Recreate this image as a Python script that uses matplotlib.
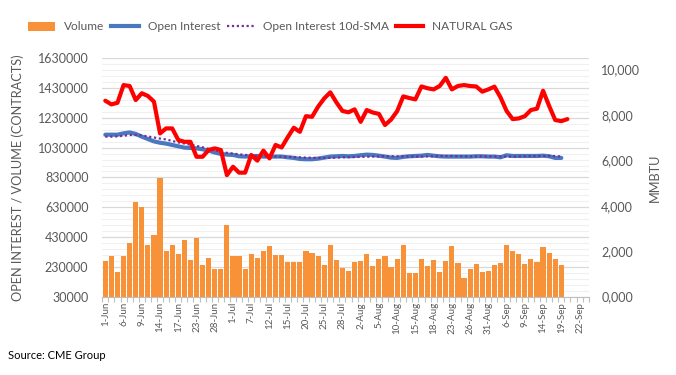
import numpy as np
import matplotlib
matplotlib.use("Agg")
import matplotlib.pyplot as plt
from matplotlib.patches import Patch
from matplotlib.lines import Line2D

plt.rcParams['font.family'] = ['Lato', 'DejaVu Sans']

# ---- data ----
volume = [267, 301, 194, 301, 388, 662, 629, 374, 441, 823,
          334, 374, 314, 408, 274, 421, 241, 288, 214, 214,
          508, 301, 301, 214, 314, 288, 334, 368, 308, 308,
          261, 261, 261, 334, 321, 301, 241, 374, 274, 221,
          201, 261, 267, 314, 234, 281, 301, 227, 281, 374,
          187, 187, 281, 234, 274, 194, 267, 368, 254, 154,
          214, 247, 194, 201, 241, 254, 374, 334, 314, 247,
          281, 261, 361, 321, 281, 241]
volume = [v * 1000 for v in volume]

open_interest = [1117, 1117, 1117, 1126, 1132, 1122, 1104, 1088, 1072, 1063,
                 1057, 1048, 1039, 1030, 1028, 1025, 1019, 1010, 997, 988,
                 983, 981, 972, 970, 972, 974, 970, 970, 970, 970,
                 965, 961, 954, 952, 952, 956, 963, 970, 972, 974,
                 972, 974, 979, 983, 981, 976, 970, 963, 961, 968,
                 972, 974, 976, 981, 976, 972, 970, 970, 970, 970,
                 970, 972, 972, 970, 970, 965, 979, 974, 974, 974,
                 974, 974, 976, 972, 961, 961]
open_interest = [v * 1000 for v in open_interest]

oi_sma10 = [1104, 1104, 1106, 1110, 1115, 1115, 1112, 1105, 1098, 1091,
            1085, 1075, 1065, 1058, 1050, 1042, 1032, 1022, 1012, 1003,
            995, 990, 985, 981, 978, 975, 973, 971, 970, 969,
            968, 967, 965, 963, 962, 961, 961, 962, 963, 965,
            966, 967, 968, 969, 970, 971, 972, 972, 972, 971,
            971, 970, 970, 971, 972, 973, 974, 974, 973, 972,
            971, 971, 971, 971, 971, 970, 970, 970, 971, 972,
            973, 973, 974, 974, 973, 971]
oi_sma10 = [v * 1000 for v in oi_sma10]

natural_gas = [8.63, 8.47, 8.54, 9.32, 9.28, 8.66, 8.96, 8.84, 8.59, 7.19,
               7.41, 7.41, 6.90, 6.82, 6.82, 6.16, 6.16, 6.46, 6.53, 6.46,
               5.35, 5.72, 5.46, 5.46, 6.24, 5.99, 6.43, 6.09, 6.68, 6.57,
               7.02, 7.44, 7.26, 7.95, 7.92, 8.37, 8.73, 9.00, 8.56, 8.18,
               8.12, 8.25, 7.70, 8.22, 8.11, 8.05, 7.56, 7.80, 8.17, 8.82,
               8.75, 8.69, 9.26, 9.18, 9.13, 9.28, 9.64, 9.13, 9.28, 9.32,
               9.28, 9.26, 9.03, 9.13, 9.25, 8.78, 8.18, 7.82, 7.85, 7.95,
               8.22, 8.28, 9.07, 8.40, 7.78, 7.73, 7.82]

tick_labels = ['1-Jun', '6-Jun', '9-Jun', '14-Jun', '17-Jun', '23-Jun', '28-Jun',
               '1-Jul', '7-Jul', '12-Jul', '15-Jul', '20-Jul', '25-Jul', '28-Jul',
               '2-Aug', '5-Aug', '10-Aug', '15-Aug', '18-Aug', '23-Aug', '26-Aug',
               '31-Aug', '6-Sep', '9-Sep', '14-Sep', '19-Sep', '22-Sep']
n_categories = 80
label_step = 3

left_ticks = list(range(30000, 1630001, 200000))
right_ticks = [0, 2, 4, 6, 8, 10]

# ---- styling ----
C_BAR = '#F79239'
C_OI = '#4A78BE'
C_SMA = '#7030A0'
C_NG = '#FF0000'
C_TXT = '#595959'
C_GRID = '#D9D9D9'
C_MINOR = '#F0F0F0'

fig = plt.figure(figsize=(6.76, 3.75), dpi=100)
ax = fig.add_axes([0.1513, 0.2093, 0.7195, 0.6352])
ax2 = ax.twinx()

x_vol = np.arange(len(volume))
x_ng = np.arange(len(natural_gas))

ax.bar(x_vol, volume, width=0.85, color=C_BAR, zorder=2)
ax.plot(x_vol, open_interest, color=C_OI, lw=3.0, solid_capstyle='round', zorder=3)
ax.plot(x_vol, oi_sma10, color=C_SMA, lw=1.6, ls=(0, (1, 1.2)), zorder=4)
ax2.plot(x_ng, natural_gas, color=C_NG, lw=3.0, solid_capstyle='round',
         solid_joinstyle='round', zorder=5)

ax.set_xlim(-0.5, n_categories - 0.5)
ax.set_ylim(left_ticks[0], left_ticks[-1])
ax2.set_ylim(0, 10.5)

# gridlines
ax.set_yticks(left_ticks)
ax.set_yticks(list(range(30000, 1630001, 40000)), minor=True)
ax.yaxis.grid(True, which='minor', color=C_MINOR, lw=0.8, zorder=0)
ax.yaxis.grid(True, which='major', color=C_GRID, lw=0.9, zorder=0)
ax.set_axisbelow(True)
ax.set_yticklabels([str(t) for t in left_ticks], color=C_TXT, fontsize=9)
ax.tick_params(axis='y', which='both', length=0, pad=10)

# x axis
xt = list(range(0, n_categories, label_step))[:len(tick_labels)]
ax.set_xticks(xt)
ax.set_xticklabels(tick_labels, rotation=90, fontsize=7, color=C_TXT)
ax.set_xticks(np.arange(-0.5, n_categories, 1), minor=True)
ax.tick_params(axis='x', which='major', length=0, pad=4)
ax.tick_params(axis='x', which='minor', length=3.5, color='#BFBFBF', width=0.8)

for s in ['top', 'right', 'left']:
    ax.spines[s].set_visible(False)
    ax2.spines[s].set_visible(False)
ax.spines['bottom'].set_color('#BFBFBF')
ax2.spines['bottom'].set_visible(False)

ax2.set_yticks(right_ticks)
ax2.set_yticklabels([f"{t:.3f}".replace('.', ',') for t in right_ticks],
                    color=C_TXT, fontsize=9)
ax2.tick_params(axis='y', length=0, pad=9)

ax.set_ylabel('OPEN INTEREST / VOLUME (CONTRACTS)', color=C_TXT, fontsize=9.2,
              labelpad=10)
ax2.set_ylabel('MMBTU', color=C_TXT, fontsize=9.2, labelpad=6)

handles = [Patch(facecolor=C_BAR, edgecolor='none'),
           Line2D([], [], color=C_OI, lw=3.0),
           Line2D([], [], color=C_SMA, lw=1.6, ls=(0, (1, 1.2))),
           Line2D([], [], color=C_NG, lw=3.0)]
labels = ['Volume', 'Open Interest', 'Open Interest 10d-SMA', 'NATURAL GAS']
leg = fig.legend(handles, labels, loc='center', bbox_to_anchor=(0.40, 0.928),
                 ncol=4, frameon=False, fontsize=8.6, handlelength=2.3,
                 handleheight=0.7, columnspacing=0.55, handletextpad=0.75)
for t in leg.get_texts():
    t.set_color(C_TXT)

fig.text(0.012, 0.042, 'Source: CME Group', fontsize=8, color='#000000')

fig.savefig('out.png', dpi=100)
